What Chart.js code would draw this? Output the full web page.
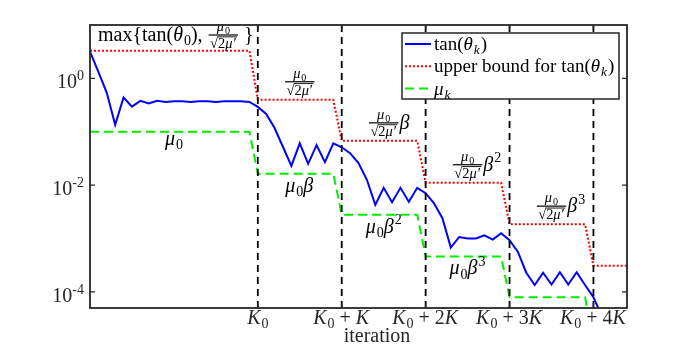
<!DOCTYPE html>
<html>
<head>
<meta charset="utf-8">
<script src="https://cdn.jsdelivr.net/npm/chart.js@4.4.1/dist/chart.umd.min.js"></script>
<style>
	body { margin: 0; background: #fff; }
	#wrap { width: 692px; height: 346px; }
</style>
</head>
<body>
<div id="wrap"><canvas id="convChart" width="692" height="346"></canvas></div>
<script>
// iterations 0..64, K0 = 20, K = 10
var lastIter = 64;
var stageStarts = [0, 20, 30, 40, 50, 60];
var xTickValues = [20, 30, 40, 50, 60];
var xTickLabels = ['K_0', 'K_0 + K', 'K_0 + 2K', 'K_0 + 3K', 'K_0 + 4K'];
var yTickValues = [1e-4, 1e-2, 1];
var yTickLabels = ['10^{-4}', '10^{-2}', '10^{0}'];
var yMin = 5e-5, yMax = 10;

// tan(theta_k)
var tanTheta = [3.16, 1.32, 0.537, 0.135, 0.437, 0.295, 0.380, 0.339, 0.380, 0.363,
	0.372, 0.372, 0.363, 0.372, 0.372, 0.363, 0.372, 0.372, 0.372, 0.363,
	0.292, 0.216, 0.1175, 0.0519, 0.0229, 0.0608, 0.0251, 0.0562, 0.0269, 0.0608,
	0.0513, 0.0398, 0.0260, 0.0126, 0.00427, 0.00891, 0.00479, 0.00891, 0.00490, 0.00891,
	0.00708, 0.00457, 0.00240, 0.000676, 0.00107, 0.00100, 0.00100, 0.00115, 0.000955, 0.00126,
	0.000933, 0.000562, 0.000229, 0.000135, 0.000229, 0.000138, 0.000234, 0.000138, 0.000234, 0.000135,
	0.0000794, 0.0000355];
// step levels per stage
var upperLevels = [3.31, 0.398, 0.0676, 0.0111, 0.00186, 0.000309];
var muLevels = [0.1, 0.0164, 0.00279, 0.000461, 0.0000794, 0.0000132];
var boundSuffix = ['', 'β', 'β^2', 'β^3'];
var muLabels = ['μ_0', 'μ_0β', 'μ_0β^2', 'μ_0β^3'];

var SERIF = '"Liberation Serif", "DejaVu Serif", serif';
var FS = 20;

function stepSeries(levels){
	var out = [];
	for (var k = 0; k <= lastIter; k++){
		var s = 0;
		for (var j = 0; j < stageStarts.length; j++) if (stageStarts[j] <= k) s = j;
		out.push({x: k, y: levels[s]});
	}
	return out;
}

// tiny tex-ish parser: _x sub, ^x sup, single latin letters and greek italic
function parseTex(str){
	var parts = [], i = 0;
	while (i < str.length){
		var c = str[i];
		if (c === '_' || c === '^'){
			var arg;
			if (str[i+1] === '{'){ var j = str.indexOf('}', i); arg = str.slice(i+2, j); i = j+1; }
			else { arg = str[i+1]; i += 2; }
			parseTex(arg).forEach(function(p){ if (c === '_') p.sub = 1; else p.sup = 1; parts.push(p); });
			continue;
		}
		var m = /^[A-Za-z]+/.exec(str.slice(i));
		if (m){ parts.push({t: m[0], i: m[0].length === 1}); i += m[0].length; continue; }
		if (/[\u03b1-\u03c9]/.test(c)){ parts.push({t: c, i: true}); i++; continue; }
		parts.push({t: c}); i++;
	}
	return parts;
}

function fontOf(size, it){ return (it ? 'italic ' : '') + size + 'px ' + SERIF; }

function partWidth(ctx, p, size){
	if (p.frac) return Math.max(measure(ctx, p.frac[0], size*0.72), measure(ctx, p.frac[1], size*0.72)) + 5;
	if (p.sqrt){ ctx.font = fontOf(size); return ctx.measureText('√').width + measure(ctx, p.sqrt, size); }
	var s = (p.sub || p.sup) ? size*0.7 : size;
	ctx.font = fontOf(s, p.i);
	return ctx.measureText(p.t).width + (p.i ? 1 : 0);
}
function measure(ctx, parts, size){
	var w = 0;
	parts.forEach(function(p){ w += partWidth(ctx, p, size); });
	return w;
}
function drawParts(ctx, parts, x, y, size){
	parts.forEach(function(p){
		var w = partWidth(ctx, p, size);
		if (p.frac){
			var fs = size*0.72, axis = y - size*0.3;
			var nw = measure(ctx, p.frac[0], fs), dw = measure(ctx, p.frac[1], fs);
			drawParts(ctx, p.frac[0], x + (w-nw)/2, axis - 4, fs);
			ctx.fillRect(x + 1, axis - 0.6, w - 2, 1.2);
			drawParts(ctx, p.frac[1], x + (w-dw)/2, axis + fs*0.85 + 1, fs);
		} else if (p.sqrt){
			ctx.font = fontOf(size);
			var rw = ctx.measureText('√').width;
			ctx.fillText('√', x, y);
			var iw = measure(ctx, p.sqrt, size);
			drawParts(ctx, p.sqrt, x + rw, y, size);
			ctx.fillRect(x + rw - 0.5, y - size*0.82, iw + 1, 0.9);
		} else {
			var s = size, dy = 0;
			if (p.sub){ s = size*0.7; dy = size*0.22; }
			if (p.sup){ s = size*0.7; dy = -size*0.42; }
			ctx.font = fontOf(s, p.i);
			ctx.fillText(p.t, x, y + dy);
		}
		x += w;
	});
}
function boundFrac(){
	return {frac: [parseTex('μ_0'), [{sqrt: parseTex('2μ′')}]]};
}

var decorPlugin = {
	id: 'decor',
	afterDatasetsDraw: function(chart){
		var ctx = chart.ctx, a = chart.chartArea, xs = chart.scales.x, ys = chart.scales.y;
		ctx.save();
		ctx.textBaseline = 'alphabetic';
		ctx.textAlign = 'left';

		// dashed stage lines
		ctx.strokeStyle = '#000';
		ctx.lineWidth = 1.8;
		ctx.setLineDash([7, 5]);
		xTickValues.forEach(function(v){
			var px = xs.getPixelForValue(v);
			ctx.beginPath(); ctx.moveTo(px, a.bottom); ctx.lineTo(px, a.top); ctx.stroke();
		});
		ctx.setLineDash([]);

		ctx.fillStyle = '#000';
		// max{...} label
		var top = [].concat(parseTex('max{tan(θ_0), '), [boundFrac()], parseTex(' }'));
		drawParts(ctx, top, a.left + 8, a.top + 16, FS);

		// upper bound labels
		for (var s = 1; s <= 4; s++){
			var mid = (stageStarts[s] + stageStarts[s+1]) / 2;
			var fr = boundFrac();
			var fw = partWidth(ctx, fr, FS);
			var cx = xs.getPixelForValue(mid);
			var ly = ys.getPixelForValue(upperLevels[s]);
			drawParts(ctx, [fr].concat(parseTex(boundSuffix[s-1])), cx - fw/2, ly - 12, FS);
		}
		// mu labels
		muLabels.forEach(function(lbl, s){
			var parts = parseTex(lbl);
			var w = measure(ctx, parts, FS);
			var cx = xs.getPixelForValue((stageStarts[s] + stageStarts[s+1]) / 2);
			var ly = ys.getPixelForValue(muLevels[s]);
			drawParts(ctx, parts, cx - w/2, ly + (s === 0 ? 13 : 18), FS);
		});

		// legend box
		var lx = 402, ly0 = 33, lw = 217, lh = 66;
		ctx.fillStyle = '#fff';
		ctx.fillRect(lx, ly0, lw, lh);
		ctx.strokeStyle = '#262626';
		ctx.lineWidth = 1.5;
		ctx.strokeRect(lx, ly0, lw, lh);
		chart.data.datasets.forEach(function(ds, i){
			var ry = ly0 + 11 + i*22.3;
			ctx.strokeStyle = ds.borderColor;
			ctx.lineWidth = ds.borderWidth;
			ctx.setLineDash(ds.borderDash || []);
			ctx.beginPath(); ctx.moveTo(lx + 3, ry); ctx.lineTo(lx + 29, ry); ctx.stroke();
			ctx.setLineDash([]);
			ctx.fillStyle = '#000';
			drawParts(ctx, parseTex(ds.label), lx + 32, ry + 6, 19);
		});

		// frame and inward ticks
		ctx.strokeStyle = '#262626';
		ctx.lineWidth = 1.8;
		ctx.strokeRect(a.left, a.top, a.right - a.left, a.bottom - a.top);
		ctx.lineWidth = 1.3;
		ctx.beginPath();
		xTickValues.forEach(function(v){
			var px = xs.getPixelForValue(v);
			ctx.moveTo(px, a.bottom); ctx.lineTo(px, a.bottom - 5);
			ctx.moveTo(px, a.top); ctx.lineTo(px, a.top + 5);
		});
		yTickValues.forEach(function(v){
			var py = ys.getPixelForValue(v);
			ctx.moveTo(a.left, py); ctx.lineTo(a.left + 5, py);
			ctx.moveTo(a.right, py); ctx.lineTo(a.right - 5, py);
		});
		ctx.stroke();

		// tick labels
		ctx.fillStyle = '#262626';
		xTickValues.forEach(function(v, i){
			var parts = parseTex(xTickLabels[i]);
			var w = measure(ctx, parts, FS);
			drawParts(ctx, parts, xs.getPixelForValue(v) - w/2, a.bottom + 16, FS);
		});
		yTickValues.forEach(function(v, i){
			var parts = parseTex(yTickLabels[i]);
			var w = measure(ctx, parts, FS);
			drawParts(ctx, parts, a.left - 6 - w, ys.getPixelForValue(v) + 10, FS);
		});
		var xl = parseTex('iteration');
		var xw = measure(ctx, xl, FS);
		drawParts(ctx, xl, 377 - xw/2, a.bottom + 34, FS);
		ctx.restore();
	}
};

var ctx = document.getElementById('convChart').getContext('2d');
var chart = new Chart(ctx, {
	type: 'line',
	data: {
		datasets: [{
			label: 'tan(θ_k)',
			data: tanTheta.map(function(v, k){ return {x: k, y: v}; }),
			borderColor: '#0000ff',
			borderWidth: 2,
			clip: 0
		}, {
			label: 'upper bound for tan(θ_k)',
			data: stepSeries(upperLevels),
			borderColor: '#ff0000',
			borderWidth: 2,
			borderDash: [2, 2],
			clip: 0
		}, {
			label: 'μ_k',
			data: stepSeries(muLevels),
			borderColor: '#00ee00',
			borderWidth: 2,
			borderDash: [9, 5],
			clip: 0
		}]
	},
	options: {
		responsive: false,
		animation: false,
		devicePixelRatio: 1,
		layout: {padding: {left: 90, right: 65, top: 25, bottom: 38}},
		elements: {point: {radius: 0}, line: {tension: 0}},
		plugins: {legend: {display: false}, tooltip: {enabled: false}},
		scales: {
			x: {type: 'linear', display: false, min: 0, max: lastIter},
			y: {type: 'logarithmic', display: false, min: yMin, max: yMax}
		}
	},
	plugins: [decorPlugin]
});
</script>
</body>
</html>
